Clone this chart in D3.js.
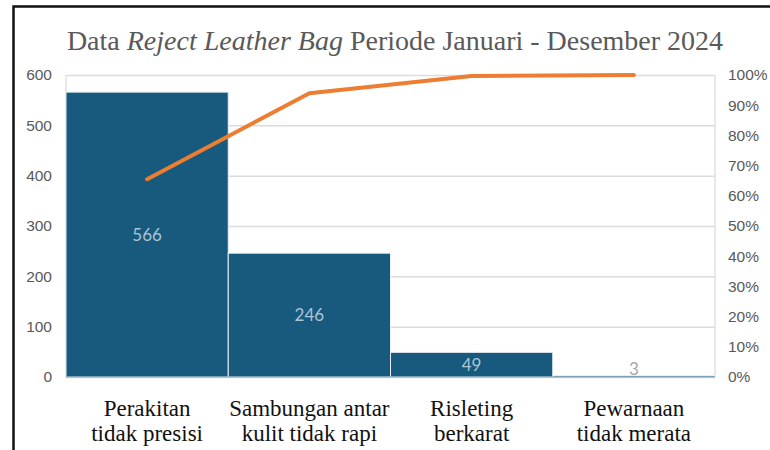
<!DOCTYPE html>
<html><head><meta charset="utf-8">
<script src="https://cdn.jsdelivr.net/npm/d3@7"></script>
<style>html,body{margin:0;padding:0;background:#fff;}svg{display:block;}</style>
</head><body>
<svg id="c" width="770" height="450"></svg>
<script>
const categories = [["Perakitan","tidak presisi"],["Sambungan antar","kulit tidak rapi"],["Risleting","berkarat"],["Pewarnaan","tidak merata"]];
const counts = [566, 246, 49, 3];
const leftTicks = [0,100,200,300,400,500,600];
const rightTicks = [0,0.1,0.2,0.3,0.4,0.5,0.6,0.7,0.8,0.9,1.0];

const total = d3.sum(counts);
const cumPct = d3.cumsum(counts).map(v => v/total);

const svg = d3.select("#c");
const m = {l:66, r:715, t:75, b:377};
const x = d3.scaleBand().domain(d3.range(counts.length)).range([m.l, m.r]).padding(0);
const y = d3.scaleLinear().domain([0,600]).range([m.b, m.t]);
const y2 = d3.scaleLinear().domain([0,1]).range([m.b, m.t]);

// border
svg.append("path").attr("d","M13.5,450 L13.5,6.5 L770,6.5").attr("fill","none").attr("stroke","#111").attr("stroke-width",2.5);

// title
const title = svg.append("text").attr("x",395).attr("y",50).attr("text-anchor","middle")
  .attr("font-family","Liberation Serif, serif").attr("font-size",28).attr("fill","#595959");
title.append("tspan").text("Data ");
title.append("tspan").attr("font-style","italic").text("Reject Leather Bag");
title.append("tspan").text(" Periode Januari - Desember 2024");

// gridlines
svg.append("g").selectAll("line").data(leftTicks).join("line")
  .attr("x1",m.l).attr("x2",m.r).attr("y1",d=>y(d)+0.5).attr("y2",d=>y(d)+0.5)
  .attr("stroke","#dcdcdc").attr("stroke-width",1.5);
svg.append("line").attr("x1",m.l).attr("x2",m.l).attr("y1",m.t).attr("y2",m.b).attr("stroke","#e0e0e0").attr("stroke-width",1.5);
svg.append("line").attr("x1",m.r).attr("x2",m.r).attr("y1",m.t).attr("y2",m.b).attr("stroke","#e0e0e0").attr("stroke-width",1.5);

// axes
const axL = svg.append("g").attr("transform",`translate(${m.l},0)`)
  .call(d3.axisLeft(y).tickValues(leftTicks).tickSize(0).tickPadding(14));
const axR = svg.append("g").attr("transform",`translate(${m.r},0)`)
  .call(d3.axisRight(y2).tickValues(rightTicks).tickSize(0).tickPadding(13).tickFormat(d3.format(".0%")));
[axL, axR].forEach(a => {
  a.select(".domain").remove();
  a.selectAll("text").attr("font-family","Liberation Sans, Arial, sans-serif").attr("font-size",15.5).attr("fill","#595959");
});

// bars
svg.append("g").selectAll("rect").data(counts).join("rect")
  .attr("x",(d,i)=>x(i)).attr("width",x.bandwidth())
  .attr("y",d=>y(d)).attr("height",d=>m.b-y(d))
  .attr("fill","#175a7e").attr("stroke","#e8f0f4").attr("stroke-width",1);

// baseline
svg.append("line").attr("x1",m.l).attr("x2",m.r).attr("y1",m.b).attr("y2",m.b).attr("stroke","#7f9fb0").attr("stroke-width",1);

// bar labels
svg.append("g").selectAll("text").data(counts).join("text")
  .attr("x",(d,i)=>x(i)+x.bandwidth()/2)
  .attr("y",d=>Math.min((y(d)+m.b)/2, m.b-8)+2)
  .attr("text-anchor","middle").attr("dominant-baseline","middle")
  .attr("font-family","Lato, sans-serif").attr("font-size",17)
  .attr("fill",d=> d<10 ? "#a6a6a6" : "#a9c5d6").text(d=>d);

// cumulative line
const line = d3.line().x((d,i)=>x(i)+x.bandwidth()/2).y(d=>y2(d));
svg.append("path").datum(cumPct).attr("d",line).attr("fill","none")
  .attr("stroke","#ed7d31").attr("stroke-width",4).attr("stroke-linecap","round").attr("stroke-linejoin","round");

// category labels
const cat = svg.append("g").selectAll("text").data(categories).join("text")
  .attr("x",(d,i)=>x(i)+x.bandwidth()/2).attr("y",416)
  .attr("text-anchor","middle").attr("font-family","Liberation Serif, serif").attr("font-size",23).attr("fill","#111");
cat.each(function(d){
  const t = d3.select(this);
  d.forEach((s,k)=>t.append("tspan").attr("x",t.attr("x")).attr("dy",k?24.5:0).text(s));
});
</script>
</body></html>
